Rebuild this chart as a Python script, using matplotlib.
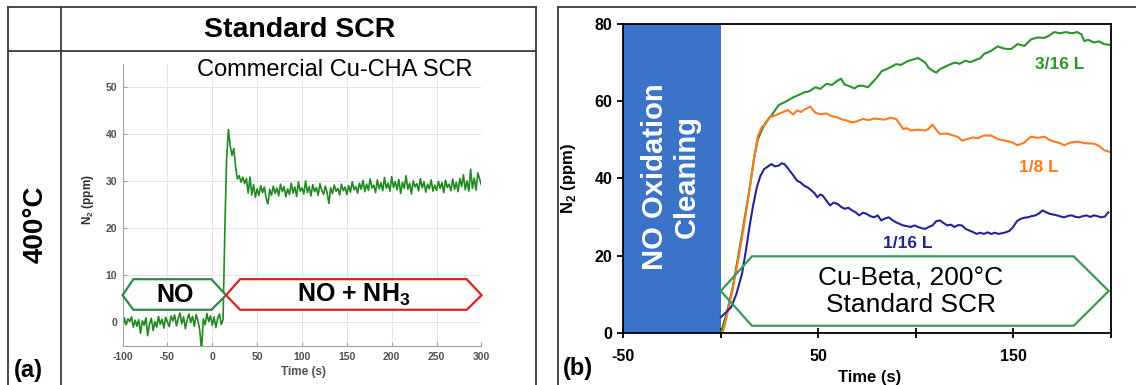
import numpy as np
import matplotlib
matplotlib.use("Agg")
import matplotlib.pyplot as plt
from matplotlib.patches import Polygon, Rectangle
from matplotlib.lines import Line2D

plt.rcParams['font.family'] = ['Liberation Sans', 'DejaVu Sans']
plt.rcParams['mathtext.fontset'] = 'custom'
plt.rcParams['mathtext.rm'] = 'Liberation Sans'
plt.rcParams['mathtext.bf'] = 'Liberation Sans:bold'
plt.rcParams['axes.unicode_minus'] = False

W, H = 1136, 385

# ---- panel (a): commercial Cu-CHA, 400 C, sampled every 2 s ----
t_a = np.arange(-100, 302, 2)
n2_a_before = [-1.5, 1.0, -0.5, 0.8, 0.2, 1.2, -1.0, 0.5, -0.8, 0.6,
               -2.3, 0.4, -0.6, 1.0, -2.8, -0.3, 0.9, -1.7, 0.2, -1.0,
               1.3, -0.4, 0.7, -1.2, 1.1, 0.1, -0.9, 1.4, 0.3, 1.6,
               -0.7, 0.9, 2.0, -0.3, 1.2, -1.3, 0.6, 1.8, 0.0, 1.3,
               -0.8, 1.7, 0.4, -1.6, -6.0, 0.8, -0.5, 1.9, 0.2, 1.4,
               -0.6, 1.2, -1.1, 0.9, 1.8, -0.4, 0.6]
n2_a_after = [20.0, 35.0, 41.0, 37.5, 35.5, 37.0, 33.0, 30.5, 31.2, 29.8,
              30.9, 29.5, 30.6, 27.5, 30.9, 27.1, 29.3, 26.6, 28.4, 27.0,
              29.1, 27.6, 28.8, 26.4, 25.2, 28.3, 27.0, 29.0, 27.4, 28.6,
              26.9, 29.4, 27.8, 28.9, 26.7, 28.4, 27.2, 29.6, 27.5, 28.8,
              26.8, 29.9, 27.9, 28.6, 27.3, 30.1, 27.6, 28.9, 26.9, 29.3,
              27.8, 28.7, 27.0, 29.5, 28.1, 27.2, 29.0, 27.6, 25.3, 28.6,
              27.4, 29.2, 27.9, 28.5, 27.1, 29.4, 28.0, 28.8, 27.2, 29.1,
              27.7, 29.9, 28.2, 28.9, 27.5, 29.6, 28.3, 30.2, 27.8, 29.4,
              28.1, 30.5, 28.6, 29.2, 27.6, 30.3, 28.4, 29.7, 28.0, 30.8,
              28.5, 29.6, 27.9, 31.0, 28.7, 29.9, 28.2, 30.4, 27.4, 29.8,
              28.5, 31.2, 28.3, 29.6, 27.3, 30.1, 28.8, 29.5, 28.0, 30.6,
              28.6, 29.9, 27.7, 29.4, 28.4, 30.3, 27.9, 29.2, 28.1, 30.0,
              28.5, 29.7, 27.6, 30.2, 28.7, 29.4, 28.0, 30.5, 28.3, 29.8,
              27.8, 30.6, 28.9, 31.4, 28.2, 30.1, 27.9, 32.6, 28.5, 30.7,
              28.1, 31.8, 30.5, 29.2]
n2_a = n2_a_before + n2_a_after

# ---- panel (b): Cu-Beta, 200 C ----
t_green = [0, 3, 6, 9, 12, 15, 17, 19, 21, 23, 26, 29.7, 33, 37.2, 40, 42.9,
           45.5, 48.5, 51, 54.2, 57, 59.5, 61.7, 63.5, 65.4, 68.6, 70.5, 72.9,
           75.5, 77.3, 78.6, 80.5, 82.6, 85, 87.5, 89.9, 92.5, 95.5, 98, 101.1,
           103, 104.9, 106.5, 108.6, 110.6, 112.4, 115, 117.5, 119.9, 122.5,
           125.6, 128, 131.2, 133, 135.2, 138.6, 142, 145.5, 148.9, 152.3,
           155.7, 159.1, 162.5, 166, 168.5, 171, 174, 177, 180, 183, 185, 186.4,
           188.5, 191.3, 194, 196.6, 199.3]
n2_green = [0, 5, 11.5, 20, 29, 38, 45, 50, 52.5, 54.5, 56.3, 59.0, 59.8, 61.0,
            61.6, 62.3, 62.6, 63.6, 63.2, 64.5, 64.2, 65.2, 65.8, 64.3, 64.0,
            63.3, 64.0, 64.0, 63.6, 64.6, 65.3, 66.4, 67.8, 68.3, 68.9, 69.6,
            69.4, 70.3, 70.7, 71.2, 70.6, 70.0, 68.7, 67.9, 67.4, 68.3, 68.9,
            69.5, 70.0, 69.7, 70.5, 70.1, 70.8, 71.1, 72.3, 73.0, 74.2, 73.6,
            73.5, 74.8, 74.3, 76.0, 76.5, 76.4, 77.0, 77.9, 77.6, 77.9, 77.6,
            77.9, 77.3, 75.6, 75.9, 75.2, 75.5, 74.8, 74.6]

t_orange = [0, 1, 3, 6, 9, 12, 15, 17, 19, 21, 23.1, 25, 28.4, 30.5, 32,
            34.5, 37.2, 39, 41, 43.5, 45.9, 48.5, 51, 54.2, 57, 59.8, 62,
            64.5, 67.3, 70, 72.9, 76, 78.5, 80.5, 84, 87, 89.9, 91.5, 93.6,
            95.5, 97.4, 101, 104.9, 106.5, 108.6, 110.5, 112.4, 116, 119.9,
            121.8, 123.7, 126.5, 129.3, 131.8, 135, 138.6, 142, 145.5, 149,
            152.3, 155.5, 159.1, 162.5, 166, 168.5, 171, 173.5, 176.2, 179.5,
            183, 187, 191.5, 194, 196.6, 199.3]
n2_orange = [0, 0, 4, 11, 19, 28, 38, 45, 51, 53.2, 54.2, 55.8, 56.4, 56.9,
             57.2, 57.7, 56.5, 57.6, 57.2, 58.0, 58.6, 57.0, 56.6, 56.8, 56.1,
             55.8, 55.3, 55.0, 54.5, 54.8, 55.4, 55.1, 55.5, 55.4, 55.2, 55.7,
             55.4, 54.3, 52.8, 53.0, 52.4, 52.6, 52.4, 52.8, 53.9, 52.6, 51.5,
             51.6, 51.0, 50.7, 49.8, 50.2, 50.6, 50.4, 51.1, 51.1, 50.2, 49.8,
             49.4, 48.6, 49.2, 50.8, 50.5, 50.8, 50.0, 49.5, 49.2, 48.6, 49.3,
             49.5, 49.1, 49.0, 48.4, 47.3, 46.9]

t_blue = [0, 2.5, 5.3, 8, 10.9, 12.8, 14.7, 16.6, 18.5, 20.3, 22.2, 24, 25.9,
          27.8, 29.7, 31.2, 32.6, 34, 35.3, 37.2, 39.1, 41, 42.8, 44.7, 46.6,
          48, 49.5, 51, 52.3, 54.2, 56, 57.9, 59.8, 61.7, 63.6, 65.4, 67.3,
          69.2, 71, 72.9, 74.8, 76.7, 78.6, 80.5, 82.3, 84.2, 86.1, 88, 89.9,
          91.7, 93.6, 95.5, 97.4, 99.3, 101.1, 103, 104.9, 106.7, 108.6,
          110.5, 112.4, 114.3, 116.2, 118, 119.9, 121.8, 123.7, 125.6, 127.4,
          129.3, 131.2, 133.1, 135, 136.8, 138.7, 140.6, 142.5, 144.4, 146.2,
          148.1, 150, 151.9, 153.8, 155.7, 157.5, 159.4, 161.3, 163.2, 165,
          166.9, 168.8, 170.7, 172.5, 174.4, 176.3, 178.2, 180.1, 182, 183.8,
          185.7, 187.6, 189.5, 191.4, 193.2, 195.1, 197, 198.8]
n2_blue = [4.0, 5.2, 6.6, 10.0, 15.3, 21.0, 27.4, 33.0, 37.7, 40.6, 42.4, 43.0,
           43.7, 43.1, 43.3, 43.9, 43.7, 42.9, 42.0, 40.8, 39.4, 38.9, 38.1,
           37.6, 36.8, 36.2, 35.1, 35.8, 35.5, 34.2, 33.0, 33.7, 33.4, 32.6,
           32.1, 32.4, 31.7, 31.2, 30.4, 31.1, 30.8, 30.2, 29.9, 30.4, 29.1,
           29.6, 29.9, 29.2, 28.6, 28.2, 27.8, 27.6, 27.4, 27.8, 27.4, 27.1,
           26.9, 27.4, 27.8, 28.9, 29.1, 28.4, 27.8, 28.0, 27.4, 27.9, 27.8,
           26.9, 26.5, 26.1, 25.6, 25.9, 25.6, 26.0, 25.6, 25.9, 25.6, 25.8,
           26.0, 26.4, 27.4, 28.9, 29.5, 29.8, 29.9, 30.2, 30.4, 30.9, 31.7,
           31.2, 30.8, 30.6, 30.4, 30.1, 29.9, 30.3, 30.4, 30.0, 29.9, 30.2,
           30.4, 30.0, 30.4, 30.2, 29.9, 30.1, 31.2]

# hexagon outlines (data units)
hex_no = [(-100, 5.8), (-88, 9.2), (-1, 9.2), (15.3, 5.8), (-1, 2.7), (-88, 2.7)]
hex_nonh3 = [(15.3, 5.8), (31, 9.2), (283.6, 9.2), (300.3, 5.8), (283.6, 2.7), (31, 2.7)]
hex_b = [(0, 10.8), (16, 19.8), (181, 19.8), (199, 10.8), (181, 1.8), (16, 1.8)]


def fx(px):
    return px / W


def fy(py):
    return 1 - py / H


fig = plt.figure(figsize=(W / 100, H / 100), dpi=100)

# table-like frames
frame_col = '#3a3a3a'
frame_lines = [
    ((8.3, 8.3), (7.3, 385)),
    ((8.3, 536), (7.3, 7.3)),
    ((536, 536), (7.3, 385)),
    ((8.3, 536), (50.7, 50.7)),
    ((61, 61), (7.3, 385)),
    ((557.7, 557.7), (7.3, 385)),
    ((557.7, 1136), (7.3, 7.3)),
]
for xs, ys in frame_lines:
    fig.add_artist(Line2D([fx(x) for x in xs], [fy(y) for y in ys],
                          transform=fig.transFigure, color=frame_col, lw=1.3))

fig.text(fx(300), fy(30), 'Standard SCR', ha='center', va='center',
         fontsize=20.5, fontweight='bold')
fig.text(fx(36), fy(224), '400°C', ha='center', va='center', rotation=90,
         fontsize=20, fontweight='bold')
fig.text(fx(28), fy(371), '(a)', ha='center', va='center', fontsize=17,
         fontweight='bold')
fig.text(fx(578), fy(368), '(b)', ha='center', va='center', fontsize=17,
         fontweight='bold')
fig.text(fx(473), fy(70), 'Commercial Cu-CHA SCR', ha='right', va='center',
         fontsize=17)

# ---- left axes ----
ax1 = fig.add_axes([fx(122.6), fy(346), (481.4 - 122.6) / W, (346 - 63.7) / H])
ax1.plot(t_a, n2_a, color='#1f8a1f', lw=1.2, zorder=2)
ax1.set_xlim(-100, 300)
ax1.set_ylim(-5, 55)
ax1.set_xticks(range(-100, 301, 50))
ax1.set_yticks(range(0, 51, 10))
ax1.grid(True, color='#e4e4e4', lw=0.7)
ax1.set_axisbelow(True)
for s in ['top', 'right']:
    ax1.spines[s].set_visible(False)
for s in ['left', 'bottom']:
    ax1.spines[s].set_color('#a0a0a0')
    ax1.spines[s].set_linewidth(0.8)
ax1.tick_params(direction='in', length=3, color='#a0a0a0', labelsize=7.5,
                labelcolor='#505050', pad=4)
for lb in ax1.get_xticklabels() + ax1.get_yticklabels():
    lb.set_fontweight('bold')
ax1.set_xlabel('Time (s)', fontsize=8.5, fontweight='bold', color='#505050')
ax1.set_ylabel(r'N$_\mathbf{2}$ (ppm)', fontsize=8.5, fontweight='bold',
               color='#303030')
ax1.xaxis.set_label_coords(0.503, -0.072)
ax1.yaxis.set_label_coords(-0.075, 0.517)

ax1.add_patch(Polygon(hex_no, closed=True, facecolor='white', edgecolor='#2e8a4a',
                      lw=1.6, zorder=3, clip_on=False))
ax1.add_patch(Polygon(hex_nonh3, closed=True, facecolor='white', edgecolor='#e02020',
                      lw=1.6, zorder=3, clip_on=False))
ax1.text(-42, 5.8, 'NO', ha='center', va='center', fontsize=18,
         fontweight='bold', zorder=4)
ax1.text(158, 5.8, r'NO + NH$_\mathbf{3}$', ha='center', va='center', fontsize=18,
         fontweight='bold', zorder=4)

# ---- right axes ----
ax2 = fig.add_axes([fx(623.3), fy(332.7), (1110.7 - 623.3) / W, (332.7 - 24) / H])
ax2.add_patch(Rectangle((-50, 0), 50, 80, facecolor='#3a73c8', edgecolor='none',
                        zorder=1))
ax2.text(-25.5, 40.4, 'NO Oxidation\nCleaning', rotation=90, ha='center',
         va='center', color='white', fontsize=21, fontweight='bold',
         linespacing=1.15, zorder=2)
ax2.plot(t_green, n2_green, color='#2a932a', lw=1.5, zorder=3)
ax2.plot(t_orange, n2_orange, color='#ff7a1f', lw=1.5, zorder=3)
ax2.plot(t_blue, n2_blue, color='#24249a', lw=1.5, zorder=3)
ax2.add_patch(Polygon(hex_b, closed=True, facecolor='none', edgecolor='#3a9a5a',
                      lw=1.6, zorder=4))
ax2.text(97.6, 10.6, 'Cu-Beta, 200°C\nStandard SCR', ha='center', va='center',
         fontsize=19, linespacing=1.1, zorder=5)
ax2.text(173.8, 69.4, '3/16 L', ha='center', va='center', fontsize=12.5,
         fontweight='bold', color='#2a932a')
ax2.text(163, 42.7, '1/8 L', ha='center', va='center', fontsize=12.5,
         fontweight='bold', color='#ff7a1f')
ax2.text(96, 23.2, '1/16 L', ha='center', va='center', fontsize=12.5,
         fontweight='bold', color='#24249a')
ax2.set_xlim(-50, 200)
ax2.set_ylim(0, 80)
ax2.set_xticks([-50, 0, 50, 100, 150, 200])
ax2.set_xticklabels(['-50', '', '50', '', '150', ''])
ax2.set_yticks([0, 20, 40, 60, 80])
for s in ax2.spines.values():
    s.set_color('black')
    s.set_linewidth(1.3)
    s.set_zorder(6)
ax2.tick_params(axis='x', direction='inout', length=7, width=1.3, labelsize=11.5,
                pad=8)
ax2.tick_params(axis='y', direction='out', length=4, width=1.3, labelsize=11.5,
                pad=4)
for lb in ax2.get_xticklabels() + ax2.get_yticklabels():
    lb.set_fontweight('bold')
ax2.set_xlabel('Time (s)', fontsize=12, fontweight='bold')
ax2.set_ylabel(r'N$_\mathbf{2}$ (ppm)', fontsize=12, fontweight='bold')
ax2.xaxis.set_label_coords(0.506, -0.12)
ax2.yaxis.set_label_coords(-0.093, 0.5)

fig.savefig('out.png', dpi=100)
